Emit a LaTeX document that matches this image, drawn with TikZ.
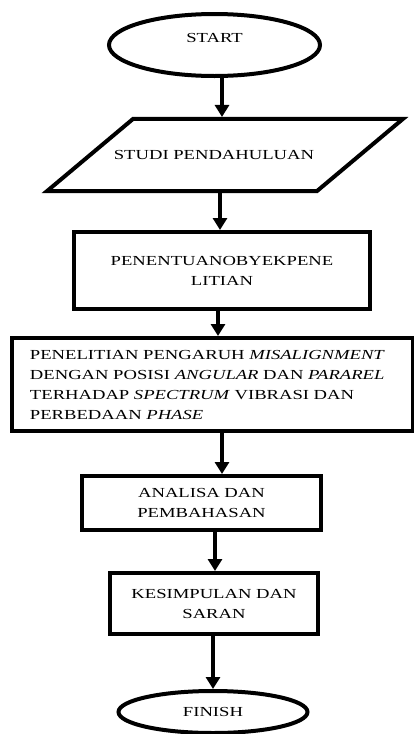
\documentclass[tikz,border=0pt]{standalone}
\usepackage{fontspec}
\setmainfont{Liberation Serif}[FakeStretch=1.35]
\usetikzlibrary{shapes.geometric,arrows.meta}

\begin{document}
\begin{tikzpicture}[x=1pt,y=-1pt,
  font=\fontsize{13.8}{20}\selectfont,
  terminal/.style={draw,ellipse,line width=4pt,inner sep=0pt},
  process/.style={draw,rectangle,line width=4pt,align=center},
  inputbox/.style={draw,trapezium,trapezium left angle=40,trapezium right angle=140,line width=4pt},
  flow/.style={-{Triangle[width=14pt,length=12pt]},line width=3.5pt}]
  \useasboundingbox (0,0) rectangle (414,734);

  \node[terminal,minimum width=211pt,minimum height=62pt,text height=9pt,text depth=14pt] (Start) at (214.5,45) {START};

  \node[inputbox,inner xsep=2pt,inner ysep=31.4pt] (Studi) at (225,155) {\makebox[180pt]{STUDI PENDAHULUAN\hspace{22pt}}};

  \node[process,minimum width=296pt,minimum height=77pt] (Penentuan) at (222,270.5) {PENENTUANOBYEKPENE\\LITIAN};

  \node[process,minimum width=401pt,minimum height=93pt,text width=365pt,align=left] (Penelitian) at (212.5,384.5)
    {PENELITIAN PENGARUH \textit{MISALIGNMENT}\\
     DENGAN POSISI \textit{ANGULAR} DAN \textit{PARAREL}\\
     TERHADAP \textit{SPECTRUM} VIBRASI DAN\\
     PERBEDAAN \textit{PHASE}};

  \node[process,minimum width=239pt,minimum height=54pt] (Analisa) at (201.5,503) {ANALISA DAN\\PEMBAHASAN};
  \node[process,minimum width=208pt,minimum height=61pt] (Kesimpulan) at (214,603.5) {KESIMPULAN DAN\\SARAN};

  \node[terminal,minimum width=189pt,minimum height=42pt] (Finish) at (213,712) {FINISH};

  \draw[flow] ([xshift=7.5pt]Start.south) -- ([xshift=-3pt]Studi.north);
  \draw[flow] ([xshift=-5pt]Studi.south) -- ([xshift=-2pt]Penentuan.north);
  \draw[flow] ([xshift=-4pt]Penentuan.south) -- ([xshift=5.5pt]Penelitian.north);
  \draw[flow] ([xshift=9.5pt]Penelitian.south) -- ([xshift=20.5pt]Analisa.north);
  \draw[flow] ([xshift=13.5pt]Analisa.south) -- ([xshift=1pt]Kesimpulan.north);
  \draw[flow] ([xshift=-1pt]Kesimpulan.south) -- (Finish.north);

\end{tikzpicture}
\end{document}
